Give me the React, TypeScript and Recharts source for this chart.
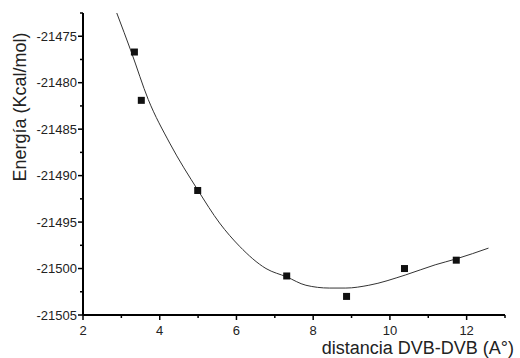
import React from 'react';
import { ComposedChart, Line, Scatter, XAxis, YAxis } from 'recharts';

// measured points (distance vs energy)
const pointX = [3.34, 3.52, 4.99, 7.31, 8.87, 10.38, 11.73];
const pointY = [-21476.7, -21481.9, -21491.6, -21500.8, -21503.0, -21500.0, -21499.1];

// fitted curve
const fitX = [2.88, 3.26, 3.70, 4.26, 5.0, 5.56, 6.08, 6.77, 7.31, 7.81, 8.42, 8.85, 9.45, 10.4, 11.18, 11.73, 12.57];
const fitY = [
    -21472.5, -21476.7, -21481.8, -21486.5, -21491.6, -21495.1, -21497.6, -21500.0, -21500.9,
    -21501.8, -21502.1, -21502.1, -21501.8, -21500.7, -21499.6, -21498.96, -21497.8,
];

const xTicks = [2, 3, 4, 5, 6, 7, 8, 9, 10, 11, 12, 13];
const yTicks = [
    -21505, -21502.5, -21500, -21497.5, -21495, -21492.5, -21490, -21487.5,
    -21485, -21482.5, -21480, -21477.5, -21475, -21472.5,
];

const FONT = 'Arial, "Liberation Sans", sans-serif';

const points = pointX.map((x, i) => ({ x, y: pointY[i] }));
const fit = fitX.map((x, i) => ({ x, y: fitY[i] }));

const XTick = (props: any) => {
    const { x, y, payload } = props;
    const major = payload.value % 2 === 0;
    return (
        <g>
            <line x1={x} y1={y} x2={x} y2={y + (major ? 5 : 3)} stroke="#000" strokeWidth={1.5} />
            {major && (
                <text x={x} y={y + 20} textAnchor="middle" fontSize={13} fontFamily={FONT} fill="#222">
                    {payload.value}
                </text>
            )}
        </g>
    );
};

const YTick = (props: any) => {
    const { x, y, payload } = props;
    const major = payload.value % 5 === 0;
    return (
        <g>
            <line x1={x} y1={y} x2={x - (major ? 5 : 3)} y2={y} stroke="#000" strokeWidth={1.5} />
            {major && (
                <text x={x - 6} y={y} dy="0.36em" textAnchor="end" fontSize={13} fontFamily={FONT} fill="#222">
                    {payload.value}
                </text>
            )}
        </g>
    );
};

const Square = (props: any) => {
    const { cx, cy } = props;
    return <rect x={cx - 3.5} y={cy - 3.5} width={7} height={7} fill="#111" />;
};

export default function App() {
    return (
        <div style={{ position: 'absolute', left: 0, top: 0, width: 520, height: 358, background: '#fff' }}>
            <ComposedChart width={520} height={358} margin={{ top: 13, right: 15, left: 0, bottom: 0 }}>
                <XAxis
                    type="number"
                    dataKey="x"
                    domain={[2, 13]}
                    ticks={xTicks}
                    interval={0}
                    height={43}
                    tickSize={0}
                    tickMargin={0}
                    tickLine={false}
                    tick={<XTick />}
                    stroke="#000"
                    axisLine={{ stroke: '#000', strokeWidth: 2 }}
                    allowDataOverflow
                />
                <YAxis
                    type="number"
                    dataKey="y"
                    domain={[-21505, -21472.5]}
                    ticks={yTicks}
                    interval={0}
                    width={83}
                    tickSize={0}
                    tickMargin={0}
                    tickLine={false}
                    tick={<YTick />}
                    stroke="#000"
                    axisLine={{ stroke: '#000', strokeWidth: 2 }}
                    allowDataOverflow
                />
                <Line
                    data={fit}
                    dataKey="y"
                    type="monotone"
                    stroke="#333"
                    strokeWidth={1}
                    dot={false}
                    isAnimationActive={false}
                />
                <Scatter data={points} dataKey="y" shape={<Square />} isAnimationActive={false} />
                <text
                    x={26}
                    y={107}
                    transform="rotate(-90, 26, 107)"
                    textAnchor="middle"
                    fontSize={18}
                    fontFamily={FONT}
                    fill="#222"
                >
                    Energía (Kcal/mol)
                </text>
                <text x={514} y={354} textAnchor="end" fontSize={18} fontFamily={FONT} fill="#222">
                    distancia DVB-DVB (A°)
                </text>
            </ComposedChart>
        </div>
    );
}
